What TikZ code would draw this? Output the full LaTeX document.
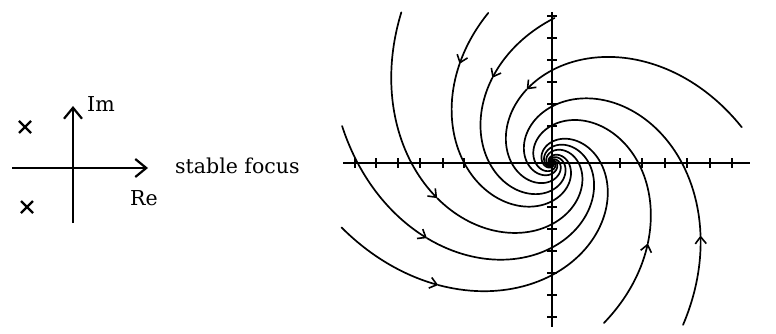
\documentclass[tikz,border=0pt]{standalone}
\usepackage{fontspec}
\setmainfont{DejaVu Serif}
\usetikzlibrary{arrows.meta}
\begin{document}
\begin{tikzpicture}[x=1pt,y=-1pt,
  flow/.style={line width=1.7pt, line cap=round, line join=round},
  ax/.style={line width=1.8pt},
  tk/.style={line width=1.3pt},
  lbl/.style={inner sep=0pt, anchor=base west, font=\fontsize{20.5}{22}\selectfont},
  tipb/.style={-{Straight Barb[length=7pt,width=11pt,line width=1.6pt]}},
  bigtip/.style={-{Straight Barb[length=11pt,width=18pt,line width=2.2pt]}}]
\useasboundingbox (0,0) rectangle (776,334);
% ---------- left: pole diagram ----------
\coordinate (hl) at (12,168);
\coordinate (hr) at (148,168);
\coordinate (vb) at (73,223);
\coordinate (vt) at (73,106);
\draw[ax, line width=2pt, bigtip] (hl) -- (hr);
\draw[ax, line width=2pt, bigtip] (vb) -- (vt);
\node[lbl] (im) at (87,112) {Im};
\node[lbl] (re) at (130,205) {Re};
\node[lbl] (sf) at (175,173) {stable focus};
\foreach \px/\py in {25/127, 27/207}{
  \draw[line width=2.4pt] (\px-6,\py-6) -- (\px+6,\py+6) (\px-6,\py+6) -- (\px+6,\py-6);
}
% ---------- right: phase portrait ----------
\coordinate (O) at (552,163);
\draw[ax] (343,163) -- (750,163);
\draw[ax] (552,12) -- (552,327);
\foreach \tx in {355,376,398,420,443,464,620,642,665,687,710,732}{
  \draw[tk] (\tx,158) -- (\tx,168);
}
\foreach \ty in {16,38,60,82,104,126,207,229,251,273,295,317}{
  \draw[tk] (547,\ty) -- (557,\ty);
}
\foreach \cc/\ts/\ta in {5.362/10.7/109, 5.800/89/125, 6.139/113/133, 6.610/135/197,
                         6.934/170/211, 7.216/197/227, 7.788/288/320, 8.196/309/334}{
  \pgfmathsetmacro{\te}{\cc/0.00925}
  \draw[flow, tipb] plot[domain=\ts:\ta, samples=60, variable=\q]
     ({552+exp(\cc-0.00925*\q)*cos(\q)}, {163-exp(\cc-0.00925*\q)*sin(\q)});
  \draw[flow] plot[domain=\ta:\te, samples=260, variable=\q]
     ({552+exp(\cc-0.00925*\q)*cos(\q)}, {163-exp(\cc-0.00925*\q)*sin(\q)});
}
\end{tikzpicture}
\end{document}
